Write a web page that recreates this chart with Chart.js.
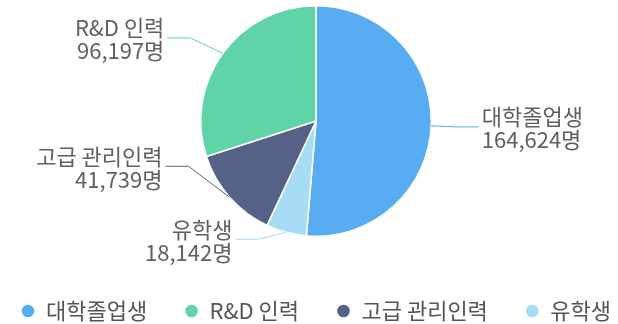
<!DOCTYPE html>
<html>
<head>
<meta charset="utf-8">
<script src="https://cdn.jsdelivr.net/npm/chart.js@4.4.1/dist/chart.umd.min.js"></script>
<style>
  html, body { margin: 0; padding: 0; background: #fff; overflow: hidden; }
  #wrap { width: 618px; height: 324px; }
</style>
</head>
<body>
<div id="wrap"><canvas id="myChart"></canvas></div>
<script>
// slices in clockwise order from 12 o'clock
const categories = ["대학졸업생", "유학생", "고급 관리인력", "R&D 인력"];
const headcounts = [164624, 18142, 41739, 96197];
const legendOrder = ["대학졸업생", "R&D 인력", "고급 관리인력", "유학생"];
const colors = ["#57acf2", "#a7dcf7", "#556187", "#60d3a7"];
const unit = "명";

const FONT = '"Noto Sans CJK KR", "Noto Sans", sans-serif';
const TEXT_COLOR = "#606060";

// labels outside the pie with leader lines
const leaderLabels = {
  id: "leaderLabels",
  afterDatasetsDraw(chart) {
    const ctx = chart.ctx;
    const arcs = chart.getDatasetMeta(0).data;
    const labels = arcs.map((arc, i) => {
      const p = arc.getProps(["x", "y", "startAngle", "endAngle", "outerRadius"], true);
      const mid = (p.startAngle + p.endAngle) / 2;
      const r = p.outerRadius;
      return {
        i: i,
        right: Math.cos(mid) >= 0,
        ex: p.x + Math.cos(mid) * r,
        ey: p.y + Math.sin(mid) * r,
        y: p.y + Math.sin(mid) * (r + 26),
        maxY: p.y + r + 3
      };
    });

    // push labels up so they don't overlap
    [true, false].forEach(side => {
      const list = labels.filter(l => l.right === side).sort((a, b) => a.y - b.y);
      for (let k = list.length - 1; k >= 0; k--) {
        let lim = list[k].maxY;
        if (k < list.length - 1) lim = Math.min(lim, list[k + 1].y - 73);
        list[k].y = Math.min(list[k].y, lim);
      }
    });

    ctx.save();
    ctx.font = "22px " + FONT;
    ctx.textBaseline = "middle";
    labels.forEach(l => {
      const dir = l.right ? 1 : -1;
      const tx = l.ex + dir * (50 + Math.abs(l.y - l.ey) * 0.55);
      ctx.strokeStyle = colors[l.i];
      ctx.lineWidth = 1;
      ctx.beginPath();
      ctx.moveTo(l.ex, l.ey);
      ctx.lineTo(tx - dir * 26, l.y);
      ctx.lineTo(tx - dir * 3, l.y);
      ctx.stroke();

      ctx.fillStyle = TEXT_COLOR;
      ctx.textAlign = l.right ? "left" : "right";
      ctx.fillText(categories[l.i], tx, l.y - 10);
      ctx.fillText(headcounts[l.i].toLocaleString("en-US") + unit, tx, l.y + 13);
    });
    ctx.restore();
  }
};

var ctx = document.getElementById("myChart").getContext("2d");

var myChart = new Chart(ctx, {
  type: "pie",
  data: {
    labels: categories,
    datasets: [{
      data: headcounts,
      backgroundColor: colors,
      borderColor: "#ffffff",
      borderWidth: 1.5,
      hoverOffset: 0
    }]
  },
  options: {
    responsive: true,
    maintainAspectRatio: false,
    animation: false,
    layout: { padding: { top: 5, left: 14, right: 0, bottom: 0 } },
    plugins: {
      tooltip: { enabled: false },
      legend: {
        position: "bottom",
        maxHeight: 87,
        // empty title used as a gap between pie and legend row
        title: { display: true, text: "", padding: 0, font: { size: 63, lineHeight: 1 } },
        labels: {
          usePointStyle: true,
          pointStyle: "circle",
          boxWidth: 14,
          boxHeight: 10,
          padding: 0,
          color: "#555555",
          font: { family: FONT, size: 22 },
          generateLabels(chart) {
            const items = Chart.overrides.doughnut.plugins.legend.labels.generateLabels(chart);
            items.sort((a, b) => legendOrder.indexOf(categories[a.index]) - legendOrder.indexOf(categories[b.index]));
            // trailing spaces keep the items apart across the row
            items.forEach((it, k) => { if (k < items.length - 1) it.text += "\u2003\u2002\u2009"; });
            return items;
          }
        }
      }
    }
  },
  plugins: [leaderLabels]
});
</script>
</body>
</html>
